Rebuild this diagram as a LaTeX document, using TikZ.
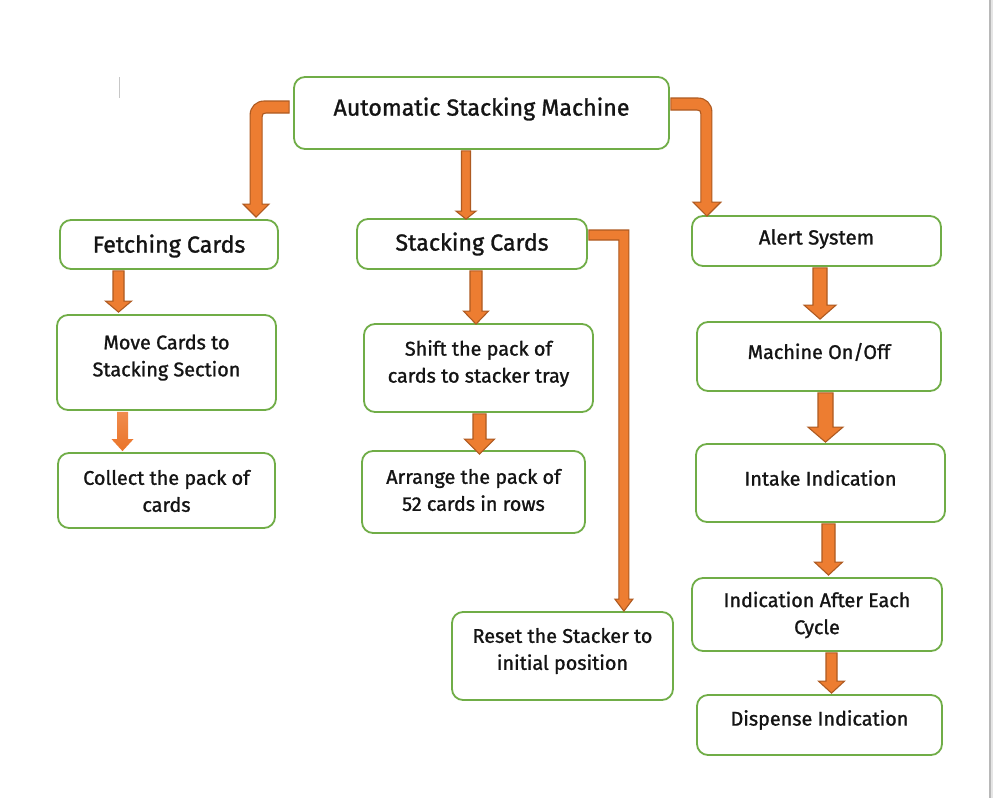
\documentclass[tikz,border=0pt]{standalone}
\usepackage{fontspec}
\setmainfont{Fira Sans}[FakeBold=1.2]
\usetikzlibrary{calc}
\definecolor{boxgreen}{HTML}{70AD47}
\definecolor{arrfill}{HTML}{ED7D31}
\definecolor{arrdraw}{HTML}{AE5A21}
\definecolor{arrlight}{HTML}{F08C4E}
\definecolor{arrdeep}{HTML}{EA7428}
\tikzset{
 box/.style={draw=boxgreen, line width=1.8pt, rounded corners=11pt, fill=white, inner sep=0pt},
 txt/.style={align=center, inner sep=0pt, text=black!92, font=\fontsize{19.8}{27}\selectfont},
 bigtxt/.style={txt, font=\fontsize{23.2}{27}\selectfont},
 alerttxt/.style={txt, font=\fontsize{20.4}{27}\selectfont},
 barrow/.style={fill=arrfill, draw=arrdraw, line width=1.1pt, line join=miter},
 glowarrow/.style={top color=arrlight, bottom color=arrdeep, draw=none},
}
% #1 style, #2 from node, #3 to node, #4 x (px), #5 shaft half width, #6 head half width, #7 head length, #8 tip offset
\newcommand\vblock[8][barrow]{%
 \path[#1] let \p1=(#2.south), \p2=(#3.north) in
  ({#4pt-#5pt},{\y1-1pt}) -- ({#4pt+#5pt},{\y1-1pt}) --
  ({#4pt+#5pt},{\y2+(#8pt)+#7pt}) -- ({#4pt+#6pt},{\y2+(#8pt)+#7pt}) --
  (#4pt,{\y2+(#8pt)}) --
  ({#4pt-#6pt},{\y2+(#8pt)+#7pt}) -- ({#4pt-#5pt},{\y2+(#8pt)+#7pt}) -- cycle;}
\begin{document}
\begin{tikzpicture}[x=1pt,y=-1pt]
\useasboundingbox (0,0) rectangle (993,798);
\fill[white] (0,0) rectangle (993,798);
% page edge and tick
\fill[black!28] (989,0) rectangle (991,798);
\fill[black!10] (991,0) rectangle (993,798);
\draw[black!22, line width=0.8pt] (119.5,77) -- (119.5,98);

% boxes
\node[box, minimum width=375pt, minimum height=72pt] (top) at (481.5,113) {};
\node[box, minimum width=218pt, minimum height=49pt] (fetch) at (169,244.5) {};
\node[box, minimum width=219pt, minimum height=95pt] (move) at (166.5,362.5) {};
\node[box, minimum width=217pt, minimum height=75pt] (collect) at (166.5,490.5) {};
\node[box, minimum width=230pt, minimum height=50pt] (stack) at (472,244) {};
\node[box, minimum width=229pt, minimum height=88pt] (shift) at (478.5,368) {};
\node[box, minimum width=223pt, minimum height=82pt] (arrange) at (473.5,492) {};
\node[box, minimum width=221pt, minimum height=88pt] (reset) at (562.5,656) {};
\node[box, minimum width=249pt, minimum height=50pt] (alert) at (816.5,241) {};
\node[box, minimum width=244pt, minimum height=69pt] (machine) at (819,356.5) {};
\node[box, minimum width=249pt, minimum height=78pt] (intake) at (820.5,483) {};
\node[box, minimum width=250pt, minimum height=73pt] (indic) at (817,614.5) {};
\node[box, minimum width=245pt, minimum height=60pt] (dispense) at (819.5,725) {};

% texts
\node[bigtxt] (ttop) at ($(top)+(0,-4)$) {Automatic Stacking Machine};
\node[bigtxt] (tfetch) at ($(fetch)+(0,1.5)$) {Fetching Cards};
\node[txt] (tmove) at ($(move)+(0,-5)$) {Move Cards to\\Stacking Section};
\node[txt] (tcollect) at ($(collect)+(0,0.5)$) {Collect the pack of\\cards};
\node[bigtxt] (tstack) at ($(stack)+(0,0)$) {Stacking Cards};
\node[txt] (tshift) at ($(shift)+(0,-4.5)$) {Shift the pack of\\cards to stacker tray};
\node[txt] (tarrange) at ($(arrange)+(0,-2)$) {Arrange the pack of\\52 cards in rows};
\node[txt] (treset) at ($(reset)+(0,-5)$) {Reset the Stacker to\\initial position};
\node[alerttxt] (talert) at ($(alert)+(0,-2)$) {Alert System};
\node[txt] (tmachine) at ($(machine)+(0,-4.5)$) {Machine On/Off};
\node[txt] (tintake) at ($(intake)+(0,-5)$) {Intake Indication};
\node[txt] (tindic) at ($(indic)+(0,0.5)$) {Indication After Each\\Cycle};
\node[txt] (tdispense) at ($(dispense)+(0,-5)$) {Dispense Indication};

% left bent arrow: top -> fetch
\path[barrow] let \p1=(top.west), \p2=(fetch.north) in
 (\x1-4pt,\y1+12pt) -- (\x1-29pt,\y1+12pt)
 .. controls (\x1-37pt,\y1+12pt) and (\x1-43pt,\y1+6pt) .. (\x1-43pt,\y1-2pt)
 -- (\x1-43pt,\y2+15pt) -- (\x1-50pt,\y2+15pt) -- (\x1-37pt,\y2+2pt)
 -- (\x1-24pt,\y2+15pt) -- (\x1-31pt,\y2+15pt) -- (\x1-31pt,\y1-4pt)
 .. controls (\x1-31pt,\y1-1pt) and (\x1-30pt,\y1) .. (\x1-27pt,\y1)
 -- (\x1-4pt,\y1) -- cycle;
% right bent arrow: top -> alert
\path[barrow] let \p1=(top.east), \p2=(alert.north) in
 (\x1+1pt,\y1+15pt) -- (\x1+28pt,\y1+15pt)
 .. controls (\x1+36pt,\y1+15pt) and (\x1+42pt,\y1+9pt) .. (\x1+42pt,\y1+1pt)
 -- (\x1+42pt,\y2+13pt) -- (\x1+51pt,\y2+13pt) -- (\x1+37pt,\y2-1pt)
 -- (\x1+23pt,\y2+13pt) -- (\x1+31pt,\y2+13pt) -- (\x1+31pt,\y1-1pt)
 .. controls (\x1+31pt,\y1+2pt) and (\x1+30pt,\y1+3pt) .. (\x1+27pt,\y1+3pt)
 -- (\x1+1pt,\y1+3pt) -- cycle;
% stack -> reset elbow
\path[barrow] let \p1=(stack.east), \p2=(reset.north) in
 (\x1+1pt,\y1+14pt) -- (\x1+41pt,\y1+14pt) -- (\x1+41pt,\y2+12pt)
 -- (\x1+45pt,\y2+12pt) -- (\x1+36pt,\y2) -- (\x1+27pt,\y2+12pt)
 -- (\x1+31pt,\y2+12pt) -- (\x1+31pt,\y1+4pt) -- (\x1+1pt,\y1+4pt) -- cycle;

% straight arrows
\vblock{top}{stack}{466}{4.5}{10}{8}{-1}
\vblock{fetch}{move}{118.5}{5.5}{13}{11}{2}
\vblock[glowarrow]{move}{collect}{122.5}{5.5}{11}{12}{1}
\vblock{stack}{shift}{476}{6}{12.5}{13}{-1}
\vblock{shift}{arrange}{479.5}{6.5}{15}{15}{-4}
\vblock{alert}{machine}{820}{7}{16}{14}{2}
\vblock{machine}{intake}{825.5}{7.5}{17.5}{15}{1}
\vblock{intake}{indic}{828.5}{6.5}{14}{13}{2}
\vblock{indic}{dispense}{831.5}{5.5}{13}{12}{1}
\end{tikzpicture}
\end{document}
